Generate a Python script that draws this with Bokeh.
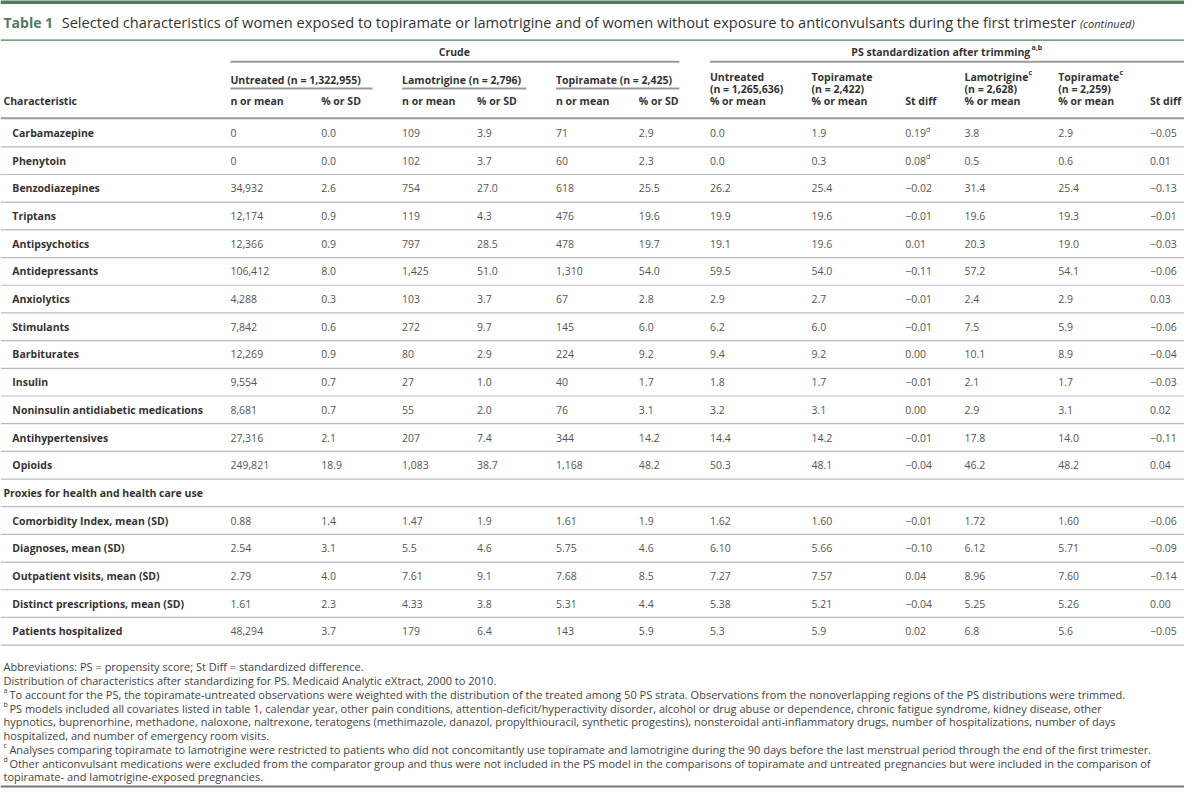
from bokeh.plotting import figure
from bokeh.models import Range1d, ColumnDataSource
from bokeh.core.properties import value
from bokeh.embed import file_html
from bokeh.resources import INLINE

# ---------------- data ----------------
title_bold = "Table 1"
title_text = ("Selected characteristics of women exposed to topiramate or lamotrigine and of women "
              "without exposure to anticonvulsants during the first trimester")
title_cont = "(continued)"

group_titles = ["Crude", "PS standardization after trimming"]
group_title_sup = ["", "a,b"]
crude_groups = ["Untreated (n = 1,322,955)", "Lamotrigine (n = 2,796)", "Topiramate (n = 2,425)"]
ps_head1 = ["Untreated", "Topiramate", "Lamotrigine", "Topiramate"]
ps_head1_sup = ["", "", "c", "c"]
ps_head2 = ["(n = 1,265,636)", "(n = 2,422)", "(n = 2,628)", "(n = 2,259)"]
col_heads = ["n or mean", "% or SD", "n or mean", "% or SD", "n or mean", "% or SD",
             "% or mean", "% or mean", "St diff", "% or mean", "% or mean", "St diff"]
char_head = "Characteristic"
section2 = "Proxies for health and health care use"

drug_rows = ["Carbamazepine", "Phenytoin", "Benzodiazepines", "Triptans", "Antipsychotics",
             "Antidepressants", "Anxiolytics", "Stimulants", "Barbiturates", "Insulin",
             "Noninsulin antidiabetic medications", "Antihypertensives", "Opioids"]
proxy_rows = ["Comorbidity Index, mean (SD)", "Diagnoses, mean (SD)", "Outpatient visits, mean (SD)",
              "Distinct prescriptions, mean (SD)", "Patients hospitalized"]

untreated_n = ["0", "0", "34,932", "12,174", "12,366", "106,412", "4,288", "7,842", "12,269", "9,554",
               "8,681", "27,316", "249,821", "0.88", "2.54", "2.79", "1.61", "48,294"]
untreated_pct = ["0.0", "0.0", "2.6", "0.9", "0.9", "8.0", "0.3", "0.6", "0.9", "0.7",
                 "0.7", "2.1", "18.9", "1.4", "3.1", "4.0", "2.3", "3.7"]
lamo_n = ["109", "102", "754", "119", "797", "1,425", "103", "272", "80", "27",
          "55", "207", "1,083", "1.47", "5.5", "7.61", "4.33", "179"]
lamo_pct = ["3.9", "3.7", "27.0", "4.3", "28.5", "51.0", "3.7", "9.7", "2.9", "1.0",
            "2.0", "7.4", "38.7", "1.9", "4.6", "9.1", "3.8", "6.4"]
topi_n = ["71", "60", "618", "476", "478", "1,310", "67", "145", "224", "40",
          "76", "344", "1,168", "1.61", "5.75", "7.68", "5.31", "143"]
topi_pct = ["2.9", "2.3", "25.5", "19.6", "19.7", "54.0", "2.8", "6.0", "9.2", "1.7",
            "3.1", "14.2", "48.2", "1.9", "4.6", "8.5", "4.4", "5.9"]
ps_untreated = ["0.0", "0.0", "26.2", "19.9", "19.1", "59.5", "2.9", "6.2", "9.4", "1.8",
                "3.2", "14.4", "50.3", "1.62", "6.10", "7.27", "5.38", "5.3"]
ps_topi = ["1.9", "0.3", "25.4", "19.6", "19.6", "54.0", "2.7", "6.0", "9.2", "1.7",
           "3.1", "14.2", "48.1", "1.60", "5.66", "7.57", "5.21", "5.9"]
ps_stdiff1 = ["0.19", "0.08", "\u22120.02", "\u22120.01", "0.01", "\u22120.11", "\u22120.01", "\u22120.01", "0.00", "\u22120.01",
              "0.00", "\u22120.01", "\u22120.04", "\u22120.01", "\u22120.10", "0.04", "\u22120.04", "0.02"]
ps_stdiff1_note = ["d", "d"] + [""] * 16
ps_lamo = ["3.8", "0.5", "31.4", "19.6", "20.3", "57.2", "2.4", "7.5", "10.1", "2.1",
           "2.9", "17.8", "46.2", "1.72", "6.12", "8.96", "5.25", "6.8"]
ps_topi2 = ["2.9", "0.6", "25.4", "19.3", "19.0", "54.1", "2.9", "5.9", "8.9", "1.7",
            "3.1", "14.0", "48.2", "1.60", "5.71", "7.60", "5.26", "5.6"]
ps_stdiff2 = ["\u22120.05", "0.01", "\u22120.13", "\u22120.01", "\u22120.03", "\u22120.06", "0.03", "\u22120.06", "\u22120.04", "\u22120.03",
              "0.02", "\u22120.11", "0.04", "\u22120.06", "\u22120.09", "\u22120.14", "0.00", "\u22120.05"]

footnote_marks = ["", "", "a", "b", "", "", "c", "d", ""]
footnotes = [
    "Abbreviations: PS = propensity score; St Diff = standardized difference.",
    "Distribution of characteristics after standardizing for PS. Medicaid Analytic eXtract, 2000 to 2010.",
    "To account for the PS, the topiramate-untreated observations were weighted with the distribution of the treated among 50 PS strata. Observations from the nonoverlapping regions of the PS distributions were trimmed.",
    "PS models included all covariates listed in table 1, calendar year, other pain conditions, attention-deficit/hyperactivity disorder, alcohol or drug abuse or dependence, chronic fatigue syndrome, kidney disease, other",
    "hypnotics, buprenorhine, methadone, naloxone, naltrexone, teratogens (methimazole, danazol, propylthiouracil, synthetic progestins), nonsteroidal anti-inflammatory drugs, number of hospitalizations, number of days",
    "hospitalized, and number of emergency room visits.",
    "Analyses comparing topiramate to lamotrigine were restricted to patients who did not concomitantly use topiramate and lamotrigine during the 90 days before the last menstrual period through the end of the first trimester.",
    "Other anticonvulsant medications were excluded from the comparator group and thus were not included in the PS model in the comparisons of topiramate and untreated pregnancies but were included in the comparison of",
    "topiramate- and lamotrigine-exposed pregnancies.",
]

# ---------------- layout ----------------
GREEN = "#4e7d5b"
DARK = "#333333"
BODY = "#555555"
FONT = "Open Sans"
FS = 10.5

col_x = [233, 325, 407, 483, 563, 647, 719, 822, 917, 977, 1072, 1165]
row_y = [137 + 28 * i for i in range(13)] + [529 + 28 * j for j in range(5)]
section_y = 501

p = figure(width=1184, height=788, x_range=Range1d(0, 1200), y_range=Range1d(800, 3),
           x_axis_type=None, y_axis_type=None, toolbar_location=None,
           output_backend="svg", min_border=0)
p.outline_line_color = None
p.background_fill_color = "white"
p.border_fill_color = "white"


def txt(xs, ys, texts, size, style="normal", color=BODY, align="left"):
    src = ColumnDataSource(dict(x=list(xs), y=list(ys), t=list(texts)))
    p.text("x", "y", "t", source=src, text_font=value(FONT), text_font_size=value(f"{size}px"),
           text_font_style=style, text_color=color, text_align=align, text_baseline="middle")


def seg(x0, y0, x1, y1, color, width):
    src = ColumnDataSource(dict(x0=list(x0), y0=list(y0), x1=list(x1), y1=list(y1)))
    p.segment("x0", "y0", "x1", "y1", source=src, line_color=color, line_width=width)


# rules
seg([0], [4.5], [1200], [4.5], GREEN, 4)
seg([0], [43], [1200], [43], GREEN, 1.2)
seg([233, 719], [65, 65], [688, 1200], [65, 65], "#999999", 2)
seg([233, 407, 563], [92, 92, 92], [377, 533, 688], [92, 92, 92], "#999999", 2)
seg([0], [122], [1200], [122], "#999999", 2)
sep_y = [y + 14 for y in row_y] + [section_y + 14]
seg([0] * len(sep_y), sep_y, [1200] * len(sep_y), sep_y, "#bbbbbb", 1.2)
seg([0], [798], [1200], [798], "#777777", 2)

# title
txt([3], [25], [title_bold], 14, "bold", GREEN)
txt([62], [25], [title_text], 14.6, "normal", DARK)
txt([1094], [26], [title_cont], 11, "italic", DARK)

# headers
txt([953], [55], [group_titles[1]], FS, "bold", DARK, "center")
txt([460], [55], [group_titles[0]], FS, "bold", DARK, "center")
txt([1045], [51], [group_title_sup[1]], 7, "bold", DARK)
txt([233, 407, 563], [83] * 3, crude_groups, FS, "bold", DARK)
ps_hx = [col_x[6], col_x[7], col_x[9], col_x[10]]
txt(ps_hx, [80] * 4, ps_head1, FS, "bold", DARK)
txt([1042, 1134], [76, 76], ps_head1_sup[2:], 7, "bold", DARK)
txt(ps_hx, [93] * 4, ps_head2, FS, "bold", DARK)
txt([3], [105], [char_head], FS, "bold", DARK)
txt(col_x, [105] * 12, col_heads, FS, "bold", DARK)

# row labels
txt([12] * len(drug_rows), row_y[:13], drug_rows, FS, "bold", DARK)
txt([3], [section_y], [section2], FS, "bold", DARK)
txt([12] * len(proxy_rows), row_y[13:], proxy_rows, FS, "bold", DARK)

# values
columns = [untreated_n, untreated_pct, lamo_n, lamo_pct, topi_n, topi_pct,
           ps_untreated, ps_topi, ps_stdiff1, ps_lamo, ps_topi2, ps_stdiff2]
for cx, col in zip(col_x, columns):
    txt([cx] * len(col), row_y, col, FS, "normal", BODY)
note_idx = [i for i, n in enumerate(ps_stdiff1_note) if n]
txt([col_x[8] + 21] * len(note_idx), [row_y[i] - 4 for i in note_idx],
    [ps_stdiff1_note[i] for i in note_idx], 7, "normal", BODY)

# footnotes
fn_y = [677 + 13.9 * i for i in range(len(footnotes))]
fn_x = [9 if m else 3 for m in footnote_marks]
txt(fn_x, fn_y, footnotes, 11, "normal", "#444444")
mk = [i for i, m in enumerate(footnote_marks) if m]
txt([3] * len(mk), [fn_y[i] - 4 for i in mk], [footnote_marks[i] for i in mk], 7, "normal", "#444444")

open("out.html", "w").write(file_html(p, INLINE))
